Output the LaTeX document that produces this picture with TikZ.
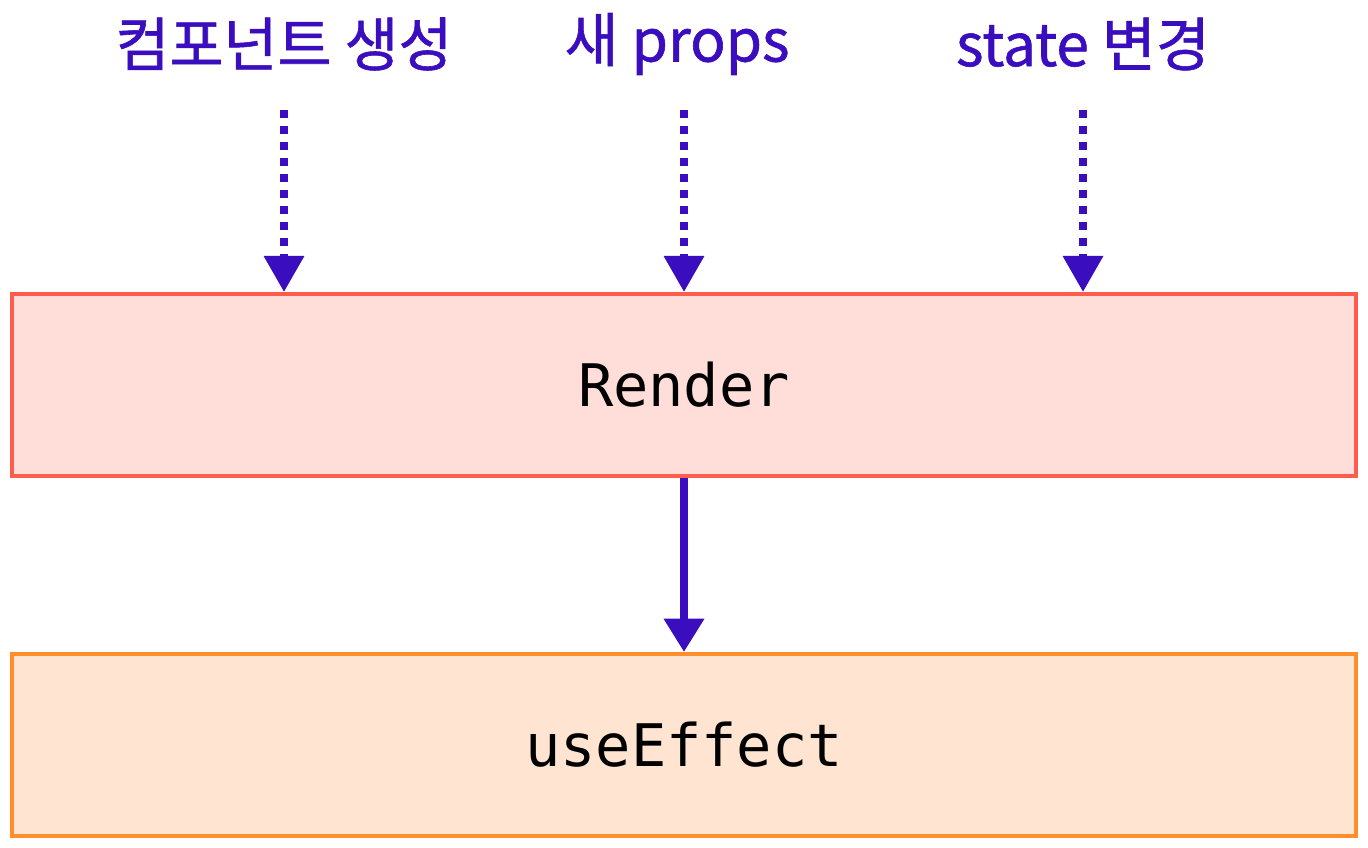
\documentclass[tikz,border=0pt]{standalone}
\usepackage{fontspec}
\usetikzlibrary{arrows.meta}
\newfontfamily\krfont{Noto Sans CJK KR}[FakeBold=1]
\newfontfamily\monofont{DejaVu Sans Mono}
\definecolor{purp}{HTML}{3A0DBF}
\definecolor{rboxline}{HTML}{FF5C4D}
\definecolor{rboxfill}{HTML}{FFDEDA}
\definecolor{oboxline}{HTML}{FF8E2B}
\definecolor{oboxfill}{HTML}{FFE5D1}
\begin{document}
\begin{tikzpicture}[x=0.75pt,y=-0.75pt,
  lbl/.style={text=purp,font=\krfont\fontsize{44pt}{50pt}\selectfont,inner sep=0pt,anchor=center},
  stagebox/.style={draw=#1line,fill=#1fill,line width=3pt,minimum width=1344*0.75pt,minimum height=182*0.75pt,inner sep=0pt,font=\monofont\fontsize{44pt}{50pt}\selectfont},
  dotarrow/.style={draw=purp,line width=5.5pt,dash pattern=on 6pt off 6pt,-{Triangle[length=27pt,width=29pt]}},
  solidarrow/.style={draw=purp,line width=6pt,-{Triangle[length=25pt,width=29pt]}}]
\useasboundingbox (0,0) rectangle (1368,848);
\node[stagebox=rbox] (render) at (684,385) {Render};
\node[stagebox=obox] (effect) at (684,745) {useEffect};
\node[lbl] (l1) at (284,44) {컴포넌트 생성};
\node[lbl] (l2) at (677,44) {새 props};
\node[lbl] (l3) at (1083,44) {state 변경};
\coordinate (s1) at (284,110);
\coordinate (s2) at (684,110);
\coordinate (s3) at (1083,110);
\draw[dotarrow] (s1) -- (s1 |- render.north);
\draw[dotarrow] (s2) -- (s2 |- render.north);
\draw[dotarrow] (s3) -- (s3 |- render.north);
\draw[solidarrow] (render.south) -- (effect.north);
\end{tikzpicture}
\end{document}
